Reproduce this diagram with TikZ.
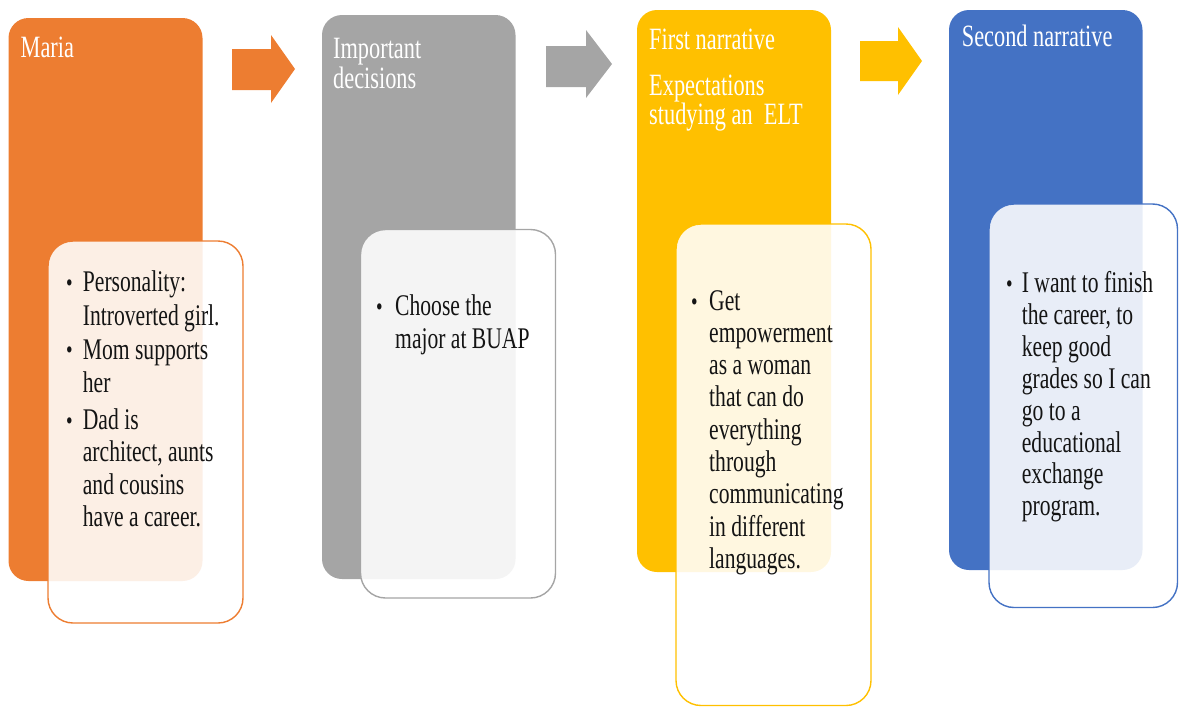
\documentclass[tikz,border=0pt]{standalone}
\usepackage{fontspec}
\setmainfont{Liberation Serif}[FakeStretch=0.72]
\begin{document}
\definecolor{cOrange}{HTML}{ED7D31}
\definecolor{cGray}{HTML}{A5A5A5}
\definecolor{cYellow}{HTML}{FFC000}
\definecolor{cBlue}{HTML}{4472C4}
\definecolor{cText}{HTML}{141414}
% multi-line nodes are anchored at the baseline of their last line
\begin{tikzpicture}[x=1pt,y=-1pt,
  panel/.style={fill=#1,draw=none,rounded corners=20pt},
  card/.style={draw=#1,line width=1.4pt,fill=white,fill opacity=0.88,draw opacity=1,rounded corners=25pt},
  chevron/.style={fill=#1,draw=none},
  heading/.style={anchor=base west,inner sep=0pt,text=white,align=left,
    font=\fontsize{31}{25}\selectfont},
  itemtext/.style={anchor=base west,inner sep=0pt,text=cText,align=left,
    font=\fontsize{30}{33.5}\selectfont},
  dot/.style={anchor=base west,inner sep=0pt,text=cText,font=\fontsize{26}{26}\selectfont}]
\useasboundingbox (0,0) rectangle (1179,707);

% coloured panels
\draw[panel=cOrange] (8.5,18) rectangle (202.5,581);
\draw[panel=cGray]   (322,15) rectangle (515.5,579);
\draw[panel=cYellow] (637,10) rectangle (831,572);
\draw[panel=cBlue]   (949,10) rectangle (1142.5,570);

% block arrows between the panels
\fill[chevron=cOrange] (232,49) -- (271,49) -- (271,35) -- (295,69) -- (271,103) -- (271,90) -- (232,90) -- cycle;
\fill[chevron=cGray]   (546,46) -- (586,46) -- (586,30) -- (612,64) -- (586,98) -- (586,87) -- (546,87) -- cycle;
\fill[chevron=cYellow] (860,41) -- (898,41) -- (898,27) -- (922,61) -- (898,95) -- (898,81) -- (860,81) -- cycle;

% headings
\node[heading] (h1) at (20.5,57) {Maria};
\node[heading] (h2) at (333,88) {Important\\decisions};
\node[heading] (h3a) at (649,49.3) {First narrative};
\node[heading,font=\fontsize{31}{29}\selectfont] (h3b) at (649,124) {Expectations\\studying an~ ELT};
\node[heading] (h4) at (961.7,46.7) {Second narrative};

% translucent cards
\draw[card=cOrange] (48,241) rectangle (243,623);
\draw[card=cGray]   (360.5,229.5) rectangle (555.5,598);
\draw[card=cYellow] (676,224) rectangle (871,705.5);
\draw[card=cBlue]   (989,204) rectangle (1177.5,607.5);

% card 1
\node[dot] (b1a) at (66,291.7) {\textbullet};
\node[itemtext] (t1a) at (82.7,325.2) {Personality:\\Introverted girl.};
\node[dot] (b1b) at (66,358.3) {\textbullet};
\node[itemtext] (t1b) at (82.7,392.5) {Mom supports\\her};
\node[dot] (b1c) at (66,429) {\textbullet};
\node[itemtext,font=\fontsize{30}{32.6}\selectfont] (t1c) at (82.7,526.8)
  {Dad is\\architect, aunts\\and cousins\\have a career.};

% card 2
\node[dot] (b2) at (376,315) {\textbullet};
\node[itemtext,font=\fontsize{30}{33}\selectfont] (t2) at (395,348) {Choose the\\major at BUAP};

% card 3
\node[dot] (b3) at (691,310) {\textbullet};
\node[itemtext,font=\fontsize{30}{32.3}\selectfont] (t3) at (709,568.4)
  {Get\\empowerment\\as a woman\\that can do\\everything\\through\\communicating\\in different\\languages.};

% card 4
\node[dot] (b4) at (1006,292.5) {\textbullet};
\node[itemtext,font=\fontsize{30}{31.9}\selectfont] (t4) at (1021.7,515.8)
  {I want to finish\\the career, to\\keep good\\grades so I can\\go to a\\educational\\exchange\\program.};
\end{tikzpicture}
\end{document}
